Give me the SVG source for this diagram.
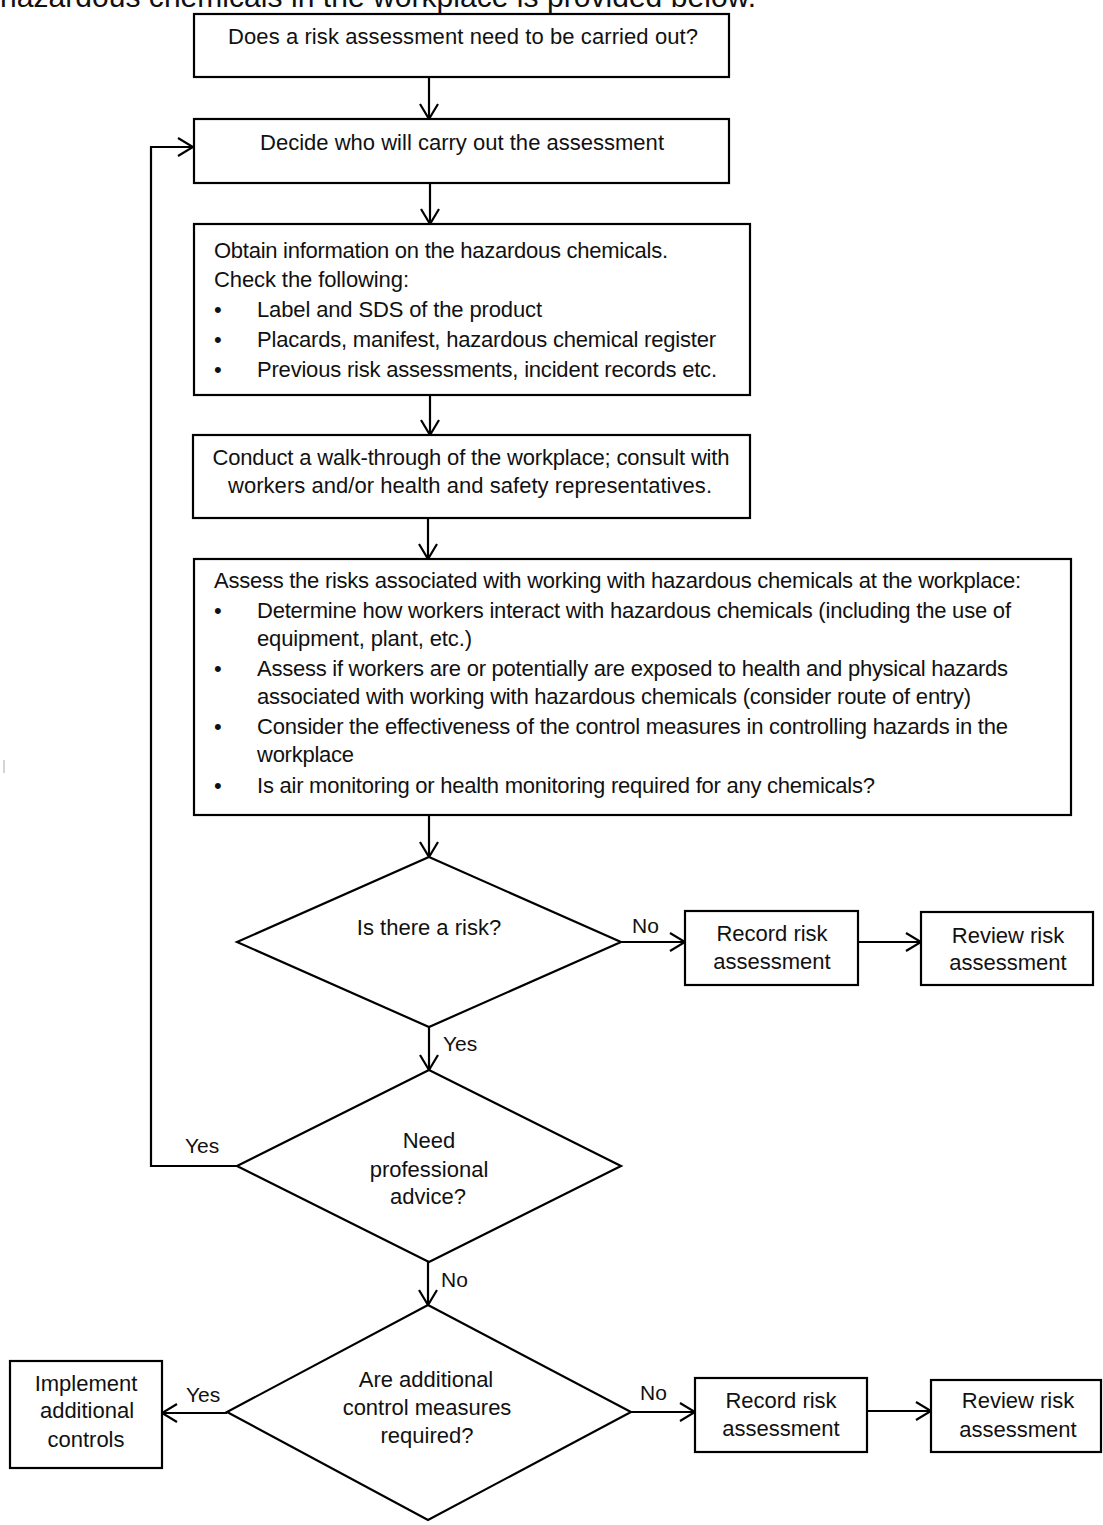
<svg xmlns="http://www.w3.org/2000/svg" width="1103" height="1525" viewBox="0 0 1103 1525">
<style>
text{font-family:"Liberation Sans",Arial,Helvetica,sans-serif;font-size:22px;fill:#111}
.c{text-anchor:middle}
.box{fill:#fff;stroke:#000;stroke-width:2.2}
.ln{fill:none;stroke:#000;stroke-width:2.2}
.lbl{font-size:21px}
</style>
<defs>
<marker id="arr" viewBox="-18 -11 20 22" refX="0" refY="0" markerWidth="20" markerHeight="22" markerUnits="userSpaceOnUse" orient="auto">
<path d="M-15,-9 L0,0 L-15,9" fill="none" stroke="#000" stroke-width="2.2"/>
</marker>
</defs>
<rect width="1103" height="1525" fill="#fff"/>
<text x="0" y="7" font-size="30" style="font-size:30px" textLength="756">hazardous chemicals in the workplace is provided below.</text>
<line x1="4" y1="760" x2="4" y2="773" stroke="#aaa" stroke-width="1"/>

<g id="connectors">
<line class="ln" x1="429" y1="77" x2="429" y2="119" marker-end="url(#arr)"/>
<line class="ln" x1="430" y1="183" x2="430" y2="224" marker-end="url(#arr)"/>
<line class="ln" x1="430" y1="395" x2="430" y2="435" marker-end="url(#arr)"/>
<line class="ln" x1="428" y1="518" x2="428" y2="559" marker-end="url(#arr)"/>
<line class="ln" x1="429" y1="815" x2="429" y2="857" marker-end="url(#arr)"/>
<line class="ln" x1="621" y1="942" x2="685" y2="942" marker-end="url(#arr)"/>
<text class="lbl" x="632" y="933">No</text>
<line class="ln" x1="858" y1="942" x2="921" y2="942" marker-end="url(#arr)"/>
<line class="ln" x1="429" y1="1027" x2="429" y2="1070" marker-end="url(#arr)"/>
<text class="lbl" x="443" y="1051">Yes</text>
<polyline class="ln" points="237,1166 151,1166 151,147 193,147" marker-end="url(#arr)"/>
<text class="lbl" x="185" y="1153">Yes</text>
<line class="ln" x1="428" y1="1262" x2="428" y2="1305" marker-end="url(#arr)"/>
<text class="lbl" x="441" y="1287">No</text>
<line class="ln" x1="227" y1="1413" x2="162" y2="1413" marker-end="url(#arr)"/>
<text class="lbl" x="186" y="1402">Yes</text>
<line class="ln" x1="631" y1="1412" x2="695" y2="1412" marker-end="url(#arr)"/>
<text class="lbl" x="640" y="1400">No</text>
<line class="ln" x1="867" y1="1411" x2="931" y2="1411" marker-end="url(#arr)"/>
</g>

<g id="n1">
<rect class="box" x="194" y="14" width="535" height="63"/>
<text class="c" x="463" y="44" textLength="470">Does a risk assessment need to be carried out?</text>
</g>
<g id="n2">
<rect class="box" x="194" y="119" width="535" height="64"/>
<text class="c" x="462" y="150" textLength="404">Decide who will carry out the assessment</text>
</g>
<g id="n3">
<rect class="box" x="194" y="224" width="556" height="171"/>
<text x="214" y="258" textLength="454">Obtain information on the hazardous chemicals.</text>
<text x="214" y="287" textLength="195">Check the following:</text>
<text x="214" y="317">•</text><text x="257" y="317" textLength="285">Label and SDS of the product</text>
<text x="214" y="347">•</text><text x="257" y="347" textLength="459">Placards, manifest, hazardous chemical register</text>
<text x="214" y="377">•</text><text x="257" y="377" textLength="460">Previous risk assessments, incident records etc.</text>
</g>
<g id="n4">
<rect class="box" x="193" y="435" width="557" height="83"/>
<text class="c" x="471" y="465" textLength="517">Conduct a walk-through of the workplace; consult with</text>
<text class="c" x="470" y="493" textLength="484">workers and/or health and safety representatives.</text>
</g>
<g id="n5">
<rect class="box" x="194" y="559" width="877" height="256"/>
<text x="214" y="588" textLength="807">Assess the risks associated with working with hazardous chemicals at the workplace:</text>
<text x="214" y="618">•</text><text x="257" y="618" textLength="754">Determine how workers interact with hazardous chemicals (including the use of</text>
<text x="257" y="646" textLength="215">equipment, plant, etc.)</text>
<text x="214" y="676">•</text><text x="257" y="676" textLength="751">Assess if workers are or potentially are exposed to health and physical hazards</text>
<text x="257" y="704" textLength="714">associated with working with hazardous chemicals (consider route of entry)</text>
<text x="214" y="734">•</text><text x="257" y="734" textLength="751">Consider the effectiveness of the control measures in controlling hazards in the</text>
<text x="257" y="762" textLength="97">workplace</text>
<text x="214" y="793">•</text><text x="257" y="793" textLength="618">Is air monitoring or health monitoring required for any chemicals?</text>
</g>
<g id="d1">
<polygon class="box" points="429,857 621,942 429,1027 237,942"/>
<text class="c" x="429" y="935">Is there a risk?</text>
</g>
<g id="r1">
<rect class="box" x="685" y="911" width="173" height="74"/>
<text class="c" x="772" y="941">Record risk</text>
<text class="c" x="772" y="969">assessment</text>
</g>
<g id="v1">
<rect class="box" x="921" y="912" width="172" height="73"/>
<text class="c" x="1008" y="943">Review risk</text>
<text class="c" x="1008" y="970">assessment</text>
</g>
<g id="d2">
<polygon class="box" points="429,1070 621,1166 429,1262 237,1166"/>
<text class="c" x="429" y="1148">Need</text>
<text class="c" x="429" y="1177">professional</text>
<text class="c" x="428" y="1204">advice?</text>
</g>
<g id="d3">
<polygon class="box" points="428,1305 631,1412 428,1520 227,1412"/>
<text class="c" x="426" y="1387">Are additional</text>
<text class="c" x="427" y="1415">control measures</text>
<text class="c" x="427" y="1443">required?</text>
</g>
<g id="impl">
<rect class="box" x="10" y="1361" width="152" height="107"/>
<text class="c" x="86" y="1391">Implement</text>
<text class="c" x="87" y="1418">additional</text>
<text class="c" x="86" y="1447">controls</text>
</g>
<g id="r2">
<rect class="box" x="695" y="1378" width="172" height="74"/>
<text class="c" x="781" y="1408">Record risk</text>
<text class="c" x="781" y="1436">assessment</text>
</g>
<g id="v2">
<rect class="box" x="931" y="1380" width="170" height="72"/>
<text class="c" x="1018" y="1408">Review risk</text>
<text class="c" x="1018" y="1437">assessment</text>
</g>
</svg>
